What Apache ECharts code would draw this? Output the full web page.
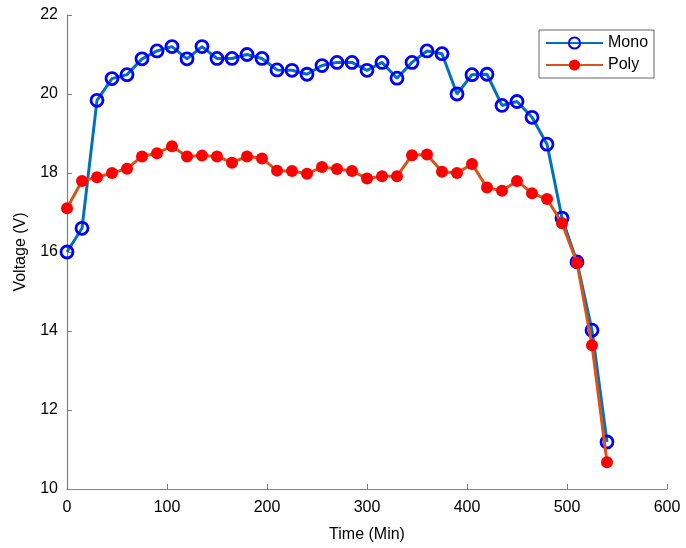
<!DOCTYPE html>
<html><head><meta charset="utf-8">
<script src="https://cdn.jsdelivr.net/npm/echarts@6/dist/echarts.min.js"></script>
<style>html,body{margin:0;padding:0;background:#fff}#c{width:686px;height:548px}</style>
</head><body><div id="c"></div>
<script>
const time = [0,15,30,45,60,75,90,105,120,135,150,165,180,195,210,225,240,255,270,285,300,315,330,345,360,375,390,405,420,435,450,465,480,495,510,525,540];
const mono = [16.0,16.6,19.84,20.39,20.49,20.89,21.09,21.2,20.89,21.2,20.9,20.9,21.0,20.9,20.61,20.6,20.5,20.72,20.8,20.8,20.6,20.8,20.4,20.8,21.09,21.02,20.0,20.49,20.5,19.71,19.81,19.41,18.73,16.86,15.75,14.02,11.19];
const poly = [17.11,17.8,17.89,18.0,18.11,18.42,18.5,18.68,18.42,18.44,18.42,18.26,18.42,18.37,18.06,18.05,17.98,18.15,18.1,18.05,17.86,17.92,17.92,18.45,18.47,18.03,18.0,18.23,17.63,17.55,17.8,17.49,17.34,16.73,15.73,13.64,10.68];
const xTicks = {min:0, max:600, interval:100};
const yTicks = {min:10, max:22, interval:2};

const chart = echarts.init(document.getElementById('c'), null, {renderer:'canvas'});
const font = 'Liberation Sans, Arial, sans-serif';
const axisCommon = {
  axisLine:{show:true, lineStyle:{color:'#808080', width:1.2}},
  axisTick:{show:true, inside:true, length:5, lineStyle:{color:'#808080'}},
  splitLine:{show:false},
  axisLabel:{color:'#000', fontSize:16, fontFamily:font},
  nameTextStyle:{color:'#000', fontSize:16, fontFamily:font}
};
chart.setOption({
  animation:false,
  backgroundColor:'#fff',
  grid:{left:67, right:19, top:15, bottom:57},
  legend:{
    left:539, top:30, width:114, orient:'vertical',
    padding:[5,6,5,6], itemGap:6, itemWidth:57, itemHeight:14,
    borderColor:'#666', borderWidth:1, backgroundColor:'#fff',
    textStyle:{color:'#000', fontSize:16, fontFamily:font},
    data:['Mono','Poly']
  },
  xAxis:Object.assign({type:'value', min:xTicks.min, max:xTicks.max, interval:xTicks.interval,
    name:'Time (Min)', nameLocation:'middle', nameGap:38}, axisCommon,
    {axisLabel:Object.assign({}, axisCommon.axisLabel, {margin:11})}),
  yAxis:Object.assign({type:'value', min:yTicks.min, max:yTicks.max, interval:yTicks.interval,
    name:'Voltage (V)', nameLocation:'middle', nameGap:38}, axisCommon,
    {axisLabel:Object.assign({}, axisCommon.axisLabel, {margin:9})}),
  series:[
    {name:'Mono', type:'line', data:time.map((t,i)=>[t,mono[i]]),
     symbol:'circle', symbolSize:12,
     lineStyle:{color:'#0072BD', width:3},
     itemStyle:{color:'rgba(0,0,0,0)', borderColor:'#0000FF', borderWidth:2.8},
     z:2},
    {name:'Poly', type:'line', data:time.map((t,i)=>[t,poly[i]]),
     symbol:'circle', symbolSize:12,
     lineStyle:{color:'#D95319', width:3},
     itemStyle:{color:'#FF0000', borderColor:'#FF0000', borderWidth:0},
     z:3}
  ]
});
</script></body></html>
